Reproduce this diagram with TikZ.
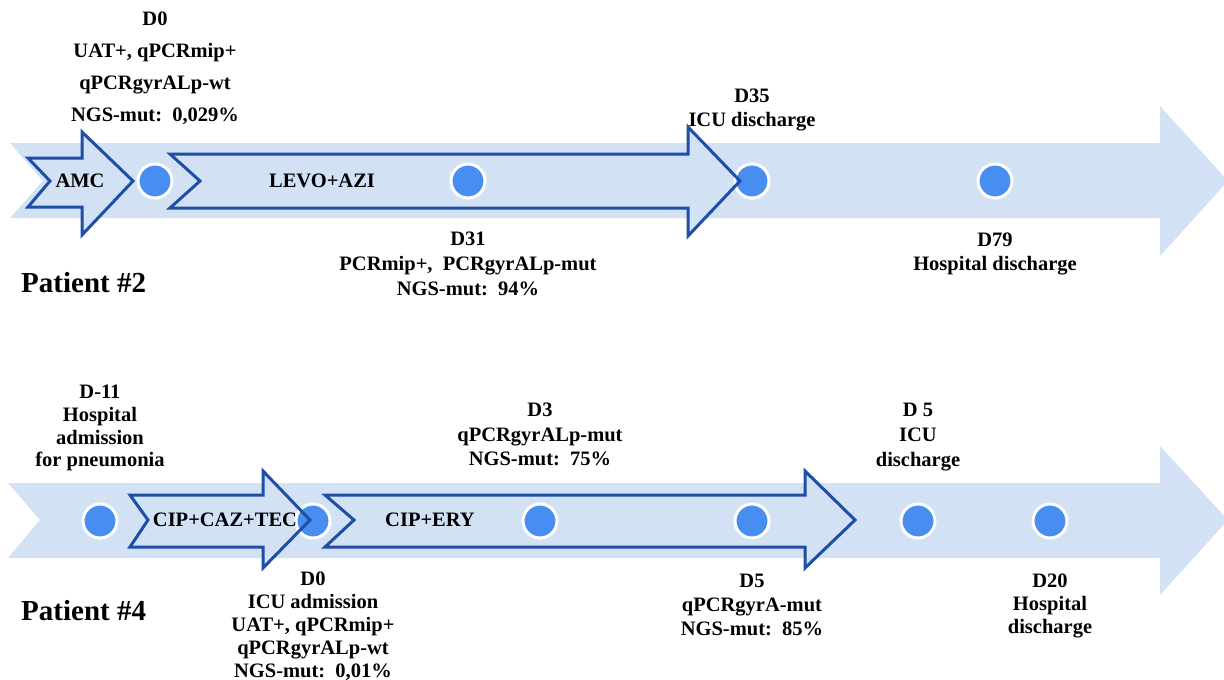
\documentclass[tikz,border=0pt]{standalone}
\usepackage{fontspec}
\setmainfont{Liberation Serif}
\definecolor{bandblue}{RGB}{210,225,244}
\definecolor{darkblue}{RGB}{30,78,170}
\definecolor{dotblue}{RGB}{72,142,240}
\newcommand{\amcpath}{(28,158) -- (82,158) -- (82,132) -- (133,181) -- (82,235) -- (82,207) -- (28,207) -- (50,181) -- cycle}
\newcommand{\levopath}{(170,154) -- (688,154) -- (688,127) -- (740,181) -- (688,236) -- (688,208) -- (170,208) -- (200,181) -- cycle}
\newcommand{\ciptecpath}{(130,495) -- (263,495) -- (263,471) -- (310,520) -- (263,568) -- (263,547) -- (130,547) -- (148,520) -- cycle}
\newcommand{\ciperypath}{(325,495) -- (805,495) -- (805,471) -- (855,520) -- (805,568) -- (805,547) -- (325,547) -- (354,520) -- cycle}
\begin{document}
\begin{tikzpicture}[x=1pt,y=-1pt,
  band/.style={fill=bandblue, draw=none},
  rxfill/.style={fill=bandblue, draw=none},
  rxline/.style={draw=darkblue, line width=3pt, line join=miter},
  dot/.style={circle, fill=dotblue, draw=white, line width=3pt, minimum size=34pt, inner sep=0pt},
  lbl/.style={font=\bfseries\fontsize{20.5}{23.5}\selectfont, align=center, inner sep=0pt, anchor=north},
  rx/.style={font=\bfseries\fontsize{20.5}{23}\selectfont, inner sep=0pt},
  pat/.style={font=\bfseries\fontsize{29}{33}\selectfont, inner sep=0pt, anchor=west}]
\useasboundingbox (0,0) rectangle (1224,680);
% timeline bands
\path[band] (10,143) -- (1160,143) -- (1160,106) -- (1228,181) -- (1160,256) -- (1160,218) -- (10,218) -- (43,181) -- cycle;
\path[band] (8,483) -- (1160,483) -- (1160,446) -- (1228,520) -- (1160,595) -- (1160,558) -- (8,558) -- (40,520) -- cycle;
% treatment arrows (fill)
\path[rxfill] \amcpath;
\path[rxfill] \levopath;
\path[rxfill] \ciptecpath;
\path[rxfill] \ciperypath;
% time points
\node[dot] (p2a) at (155,181) {};
\node[dot] (p2b) at (468,181) {};
\node[dot] (p2c) at (752,181) {};
\node[dot] (p2d) at (995,181) {};
\node[dot] (p4a) at (100,521) {};
\node[dot] (p4b) at (313,521) {};
\node[dot] (p4c) at (540,521) {};
\node[dot] (p4d) at (752,521) {};
\node[dot] (p4e) at (918,521) {};
\node[dot] (p4f) at (1050,521) {};
% treatment arrows (outline)
\path[rxline] \amcpath;
\path[rxline] \levopath;
\path[rxline] \ciptecpath;
\path[rxline] \ciperypath;
% treatment labels
\node[rx] (amc) at (80,181) {AMC};
\node[rx] (levo) at (322,181) {LEVO+AZI};
\node[rx] (ciptec) at (225,520) {CIP+CAZ+TEC};
\node[rx] (cipery) at (430,520) {CIP+ERY};
% patient 2 annotations
\node[lbl, font=\bfseries\fontsize{20.5}{32}\selectfont] (t2a) at (155,12) {D0\\UAT+, qPCRmip+\\qPCRgyrALp-wt\\NGS-mut:\ \ 0,029\%};
\node[lbl, font=\bfseries\fontsize{20.5}{24}\selectfont] (t2c) at (752,89) {D35\\ICU discharge};
\node[lbl, font=\bfseries\fontsize{20.5}{25}\selectfont] (t2b) at (468,232) {D31\\PCRmip+,\ \ PCRgyrALp-mut\\NGS-mut:\ \ 94\%};
\node[lbl, font=\bfseries\fontsize{20.5}{24}\selectfont] (t2d) at (995,233) {D79\\Hospital discharge};
\node[pat] (pat2) at (21,283) {Patient \#2};
% patient 4 annotations
\node[lbl, font=\bfseries\fontsize{20.5}{22.7}\selectfont] (t4a) at (100,385) {D-11\\Hospital\\admission\\for pneumonia};
\node[lbl, font=\bfseries\fontsize{20.5}{24.5}\selectfont] (t4c) at (540,403) {D3\\qPCRgyrALp-mut\\NGS-mut:\ \ 75\%};
\node[lbl, font=\bfseries\fontsize{20.5}{25}\selectfont] (t4e) at (918,403) {D 5\\ICU\\discharge};
\node[lbl, font=\bfseries\fontsize{20.5}{23}\selectfont] (t4b) at (313,572) {D0\\ICU admission\\UAT+, qPCRmip+\\qPCRgyrALp-wt\\NGS-mut:\ \ 0,01\%};
\node[lbl, font=\bfseries\fontsize{20.5}{24}\selectfont] (t4d) at (752,574) {D5\\qPCRgyrA-mut\\NGS-mut:\ \ 85\%};
\node[lbl, font=\bfseries\fontsize{20.5}{23}\selectfont] (t4f) at (1050,574) {D20\\Hospital\\discharge};
\node[pat] (pat4) at (21,611) {Patient \#4};
\end{tikzpicture}
\end{document}
